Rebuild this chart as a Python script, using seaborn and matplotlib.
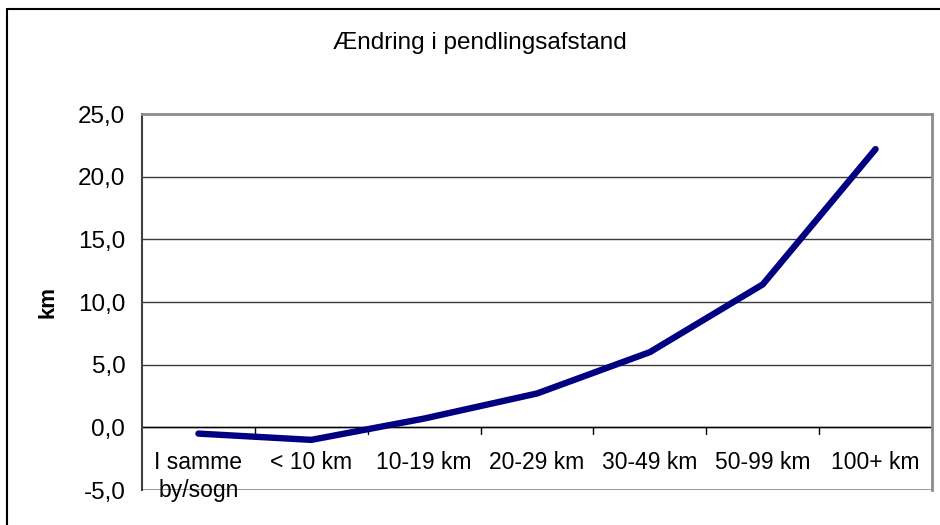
import matplotlib
matplotlib.use("Agg")
import matplotlib.pyplot as plt
import matplotlib.ticker as mticker
import pandas as pd
import seaborn as sns

categories = ["I samme\nby/sogn", "< 10 km", "10-19 km", "20-29 km",
              "30-49 km", "50-99 km", "100+ km"]
values = [-0.5, -1.0, 0.7, 2.7, 6.0, 11.4, 22.2]
yticks = [-5, 0, 5, 10, 15, 20, 25]

sns.set_style("white")
plt.rcParams["font.family"] = ["Liberation Sans", "DejaVu Sans"]
plt.rcParams["text.color"] = "black"
plt.rcParams["axes.labelcolor"] = "black"
plt.rcParams["ytick.labelcolor"] = "black"

df = pd.DataFrame({"kategori": categories, "km": values})

fig = plt.figure(figsize=(9.4, 5.25), dpi=100)
ax = fig.add_axes([142 / 940, 1 - 490 / 525, 790 / 940, 376 / 525])

sns.lineplot(data=df, x="kategori", y="km", ax=ax, color="#000080",
             linewidth=4.6, sort=False, solid_capstyle="round")

ax.set_xlim(-0.5, 6.5)
ax.set_ylim(-5, 25)
ax.set_yticks(yticks)
ax.yaxis.set_major_formatter(mticker.FuncFormatter(lambda v, p: f"{v:.1f}".replace(".", ",")))
ax.tick_params(axis="y", direction="out", length=6, width=1, color="#404040",
               labelsize=17.5, pad=6, labelcolor="black")

# grid lines
for y in yticks[1:-1]:
    ax.axhline(y, color="#3a3a3a", linewidth=1, zorder=0)

# frame
for side in ["top", "right"]:
    ax.spines[side].set_color("#8c8c8c")
    ax.spines[side].set_linewidth(2)
ax.spines["left"].set_color("#404040")
ax.spines["left"].set_linewidth(1.5)
ax.spines["bottom"].set_visible(False)
ax.axhline(-5, color="#8c8c8c", linewidth=2, zorder=0)

# category axis at y=0
ax.axhline(0, color="black", linewidth=1, zorder=1)
ax.set_xticks(range(len(categories)))
ax.tick_params(axis="x", which="major", length=0)
for x in [i - 0.5 for i in range(1, len(categories) + 1)]:
    ax.plot([x, x], [0, -0.5], color="black", linewidth=1, zorder=1, clip_on=False)
ax.set_xticklabels([])
for i, lab in enumerate(categories):
    ax.text(i, -1.9, lab, ha="center", va="top", fontsize=16.5, linespacing=1.25,
            color="black")

ax.set_xlabel("")
ax.set_ylabel("km", fontsize=16, fontweight="bold", labelpad=14, color="black")

fig.text(480 / 940, 1 - 43 / 525, "Ændring i pendlingsafstand",
         ha="center", va="center", fontsize=17.5, color="black")

# outer chart border
fig.add_artist(plt.Line2D([7 / 940, 1], [1 - 9 / 525, 1 - 9 / 525],
                          transform=fig.transFigure, color="black", linewidth=1.5))
fig.add_artist(plt.Line2D([7 / 940, 7 / 940], [0, 1 - 9 / 525],
                          transform=fig.transFigure, color="black", linewidth=1.5))

fig.savefig("out.png", dpi=100)
